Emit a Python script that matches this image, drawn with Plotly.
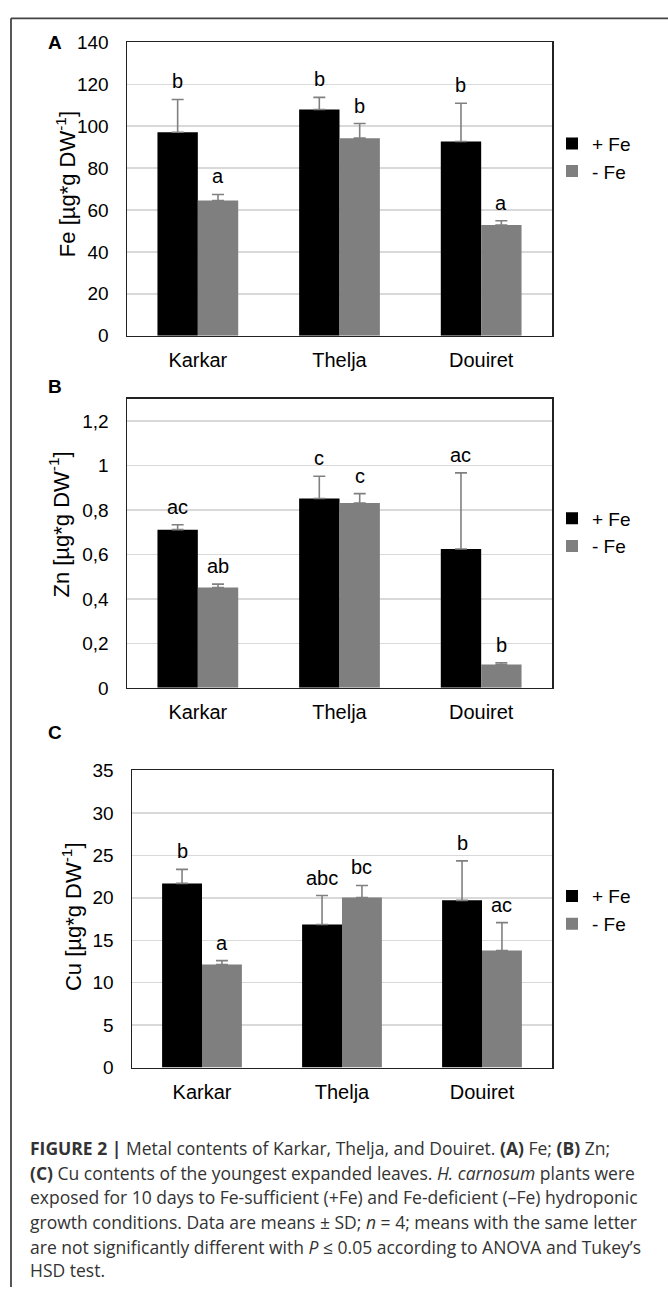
import plotly.graph_objects as go

W, H = 668, 1298

categories = ["Karkar", "Thelja", "Douiret"]
series_names = ["+ Fe", "- Fe"]
series_colors = ["#000000", "#7f7f7f"]

# Panel A: Fe
fe_plus = [97.1, 108.0, 92.7]
fe_plus_sd = [15.7, 5.8, 18.3]
fe_minus = [64.5, 94.3, 52.8]
fe_minus_sd = [2.9, 7.0, 2.1]
fe_plus_letters = ["b", "b", "b"]
fe_minus_letters = ["a", "b", "a"]
fe_tick_vals = [0, 20, 40, 60, 80, 100, 120, 140]
fe_tick_text = ["0", "20", "40", "60", "80", "100", "120", "140"]

# Panel B: Zn
zn_plus = [0.711, 0.851, 0.624]
zn_plus_sd = [0.022, 0.100, 0.342]
zn_minus = [0.451, 0.831, 0.105]
zn_minus_sd = [0.015, 0.042, 0.008]
zn_plus_letters = ["ac", "c", "ac"]
zn_minus_letters = ["ab", "c", "b"]
zn_tick_vals = [0, 0.2, 0.4, 0.6, 0.8, 1.0, 1.2]
zn_tick_text = ["0", "0,2", "0,4", "0,6", "0,8", "1", "1,2"]

# Panel C: Cu
cu_plus = [21.7, 16.85, 19.7]
cu_plus_sd = [1.65, 3.42, 4.65]
cu_minus = [12.15, 20.04, 13.8]
cu_minus_sd = [0.45, 1.42, 3.28]
cu_plus_letters = ["b", "abc", "b"]
cu_minus_letters = ["a", "bc", "ac"]
cu_tick_vals = [0, 5, 10, 15, 20, 25, 30, 35]
cu_tick_text = ["0", "5", "10", "15", "20", "25", "30", "35"]

caption_lines = [
    "<b>FIGURE 2 |</b> Metal contents of Karkar, Thelja, and Douiret. <b>(A)</b> Fe; <b>(B)</b> Zn;",
    "<b>(C)</b> Cu contents of the youngest expanded leaves. <i>H. carnosum</i> plants were",
    "exposed for 10 days to Fe-sufficient (+Fe) and Fe-deficient (\u2013Fe) hydroponic",
    "growth conditions. Data are means \u00b1 SD; <i>n</i> = 4; means with the same letter",
    "are not significantly different with <i>P</i> \u2264 0.05 according to ANOVA and Tukey\u2019s",
    "HSD test.",
]

FONT = "Liberation Sans, Arial, sans-serif"
CAP_FONT = "Open Sans, Liberation Sans, sans-serif"


def px_x(p):
    return p / W


def px_y(p):
    return 1 - p / H


panels = [
    dict(key="", plus=fe_plus, plus_sd=fe_plus_sd, minus=fe_minus, minus_sd=fe_minus_sd,
         pl=fe_plus_letters, ml=fe_minus_letters, tv=fe_tick_vals, tt=fe_tick_text,
         rng=[0, 140], box=(127, 552, 33, 331), title="Fe [\u00b5g*g DW<sup>-1</sup>]",
         title_xy=(66, 177), label="A", label_xy=(55, 33), legend_y=150, gap=6),
    dict(key="2", plus=zn_plus, plus_sd=zn_plus_sd, minus=zn_minus, minus_sd=zn_minus_sd,
         pl=zn_plus_letters, ml=zn_minus_letters, tv=zn_tick_vals, tt=zn_tick_text,
         rng=[0, 1.3], box=(127, 552, 395, 689), title="Zn [\u00b5g*g DW<sup>-1</sup>]",
         title_xy=(59, 523), label="B", label_xy=(55, 383), legend_y=531, gap=11),
    dict(key="3", plus=cu_plus, plus_sd=cu_plus_sd, minus=cu_minus, minus_sd=cu_minus_sd,
         pl=cu_plus_letters, ml=cu_minus_letters, tv=cu_tick_vals, tt=cu_tick_text,
         rng=[0, 35], box=(132, 552, 773, 1075), title="Cu [\u00b5g*g DW<sup>-1</sup>]",
         title_xy=(72, 922), label="C", label_xy=(55, 734), legend_y=915, gap=9),
]

BARGAP = 0.43

fig = go.Figure()
annotations = []
layout_axes = {}

for i, p in enumerate(panels):
    k = p["key"]
    xa, ya = "x" + k, "y" + k
    leg = "legend" + k
    x0, x1, y0, y1 = p["box"]
    for j, (vals, sds) in enumerate([(p["plus"], p["plus_sd"]), (p["minus"], p["minus_sd"])]):
        fig.add_trace(go.Bar(
            x=categories, y=vals, name=series_names[j],
            marker=dict(color=series_colors[j], line=dict(width=0)),
            error_y=dict(type="data", symmetric=False, array=sds,
                         arrayminus=[0] * len(sds), color="#808080",
                         thickness=1.6, width=6),
            xaxis=xa, yaxis=ya, legend=leg, legendgroup=f"g{i}{j}",
            offsetgroup=str(j),
        ))
    cat_w = (x1 - x0) / len(categories)
    bar_w = cat_w * (1 - BARGAP) / 2
    for j, (vals, sds, lets) in enumerate([(p["plus"], p["plus_sd"], p["pl"]),
                                           (p["minus"], p["minus_sd"], p["ml"])]):
        for c, v, s, t in zip(categories, vals, sds, lets):
            annotations.append(dict(
                x=c, y=v + s, xref=xa, yref=ya, text=t, showarrow=False,
                xshift=(-0.5 if j == 0 else 0.5) * bar_w, yshift=18,
                yanchor="middle", font=dict(size=20, color="#000", family=FONT)))
    annotations.append(dict(
        x=px_x(p["title_xy"][0]), y=px_y(p["title_xy"][1]), xref="paper", yref="paper",
        text=p["title"], textangle=-90, showarrow=False, xanchor="center", yanchor="middle",
        font=dict(size=22, color="#000", family=FONT)))
    annotations.append(dict(
        x=px_x(p["label_xy"][0]), y=px_y(p["label_xy"][1]), xref="paper", yref="paper",
        text="<b>" + p["label"] + "</b>", showarrow=False, xanchor="center", yanchor="middle",
        font=dict(size=19, color="#000", family=FONT)))

    layout_axes["xaxis" + k] = dict(
        domain=[px_x(x0), px_x(x1)], anchor=ya, type="category",
        showline=True, mirror=True, linecolor="#222", linewidth=1.5,
        showgrid=False, ticks="", tickfont=dict(size=20, color="#000", family=FONT),
        ticklabelstandoff=6, fixedrange=True,
    )
    layout_axes["yaxis" + k] = dict(
        domain=[px_y(y1), px_y(y0)], anchor=xa, range=p["rng"],
        tickvals=p["tv"], ticktext=p["tt"],
        showline=True, mirror=True, linecolor="#222", linewidth=1.5,
        showgrid=True, gridcolor="#d9d9d9", gridwidth=1.5, zeroline=False,
        ticks="", tickfont=dict(size=19, color="#000", family=FONT),
        ticklabelstandoff=13, fixedrange=True,
    )
    layout_axes[leg] = dict(
        x=px_x(552), y=px_y(p["legend_y"]), xanchor="left", yanchor="middle",
        bgcolor="rgba(0,0,0,0)", borderwidth=0, tracegroupgap=p["gap"],
        font=dict(size=19, color="#000", family=FONT), itemwidth=30,
        traceorder="normal",
    )

caption_y = [1157, 1182, 1207, 1232, 1257, 1281]
for line, yy in zip(caption_lines, caption_y):
    annotations.append(dict(
        x=px_x(28), y=px_y(yy), xref="paper", yref="paper", text=line,
        showarrow=False, xanchor="left", yanchor="middle",
        font=dict(size=17.5, color="#333333", family=CAP_FONT)))

shapes = [
    dict(type="line", xref="paper", yref="paper", x0=px_x(11), x1=1, y0=px_y(8.5), y1=px_y(8.5),
         line=dict(color="#444", width=1.8)),
    dict(type="line", xref="paper", yref="paper", x0=px_x(11), x1=px_x(11), y0=0, y1=px_y(8.5),
         line=dict(color="#444", width=1.8)),
]

fig.update_layout(
    width=W, height=H, margin=dict(l=0, r=0, t=0, b=0),
    paper_bgcolor="white", plot_bgcolor="white",
    barmode="group", bargap=BARGAP, bargroupgap=0,
    showlegend=True, annotations=annotations, shapes=shapes,
    font=dict(family=FONT, color="#000"),
    **layout_axes,
)

fig.write_html("out.html", config={"displayModeBar": False, "staticPlot": True},
               post_script="document.body.style.margin='0';document.body.style.overflow='hidden';")
